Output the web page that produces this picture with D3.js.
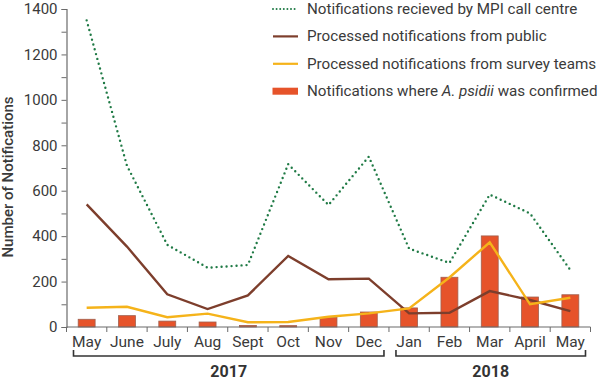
<!DOCTYPE html>
<html>
<head>
<meta charset="utf-8">
<script src="https://cdn.jsdelivr.net/npm/d3@7"></script>
<style>
  body { margin: 0; background: #fff; }
  svg { display: block; font-family: Roboto, "Noto Sans", sans-serif; }
</style>
</head>
<body>
<svg id="chart" width="600" height="380"></svg>
<script>
const months = ["May", "June", "July", "Aug", "Sept", "Oct", "Nov", "Dec", "Jan", "Feb", "Mar", "April", "May"];
const callCentre = [1350, 710, 362, 261, 273, 717, 537, 750, 345, 282, 583, 500, 251];
const fromPublic = [540, 354, 144, 79, 139, 313, 210, 213, 60, 63, 158, 119, 70];
const fromSurvey = [85, 89, 43, 59, 21, 22, 45, 60, 82, 218, 373, 100, 129];
const confirmed = [34, 50, 26, 22, 7, 6, 42, 66, 84, 219, 401, 132, 142];
const yTicks = [0, 200, 400, 600, 800, 1000, 1200, 1400];
const years = [{label: "2017", from: 0, to: 7}, {label: "2018", from: 8, to: 12}];
const legendItems = [
  {type: "dotted", text: ["Notifications recieved by MPI call centre"]},
  {type: "brown", text: ["Processed notifications from public"]},
  {type: "yellow", text: ["Processed notifications from survey teams"]},
  {type: "bar", text: ["Notifications where ", "A. psidii", " was confirmed"]}
];

const colors = {green: "#1f7a45", brown: "#7d3e2c", yellow: "#f5b31a", bar: "#e6532a", barStroke: "#a0604f", axis: "#6b6b6b", text: "#3a3a3a"};

const svg = d3.select("#chart");
const idx = d3.range(months.length);
const x = d3.scaleBand().domain(idx).range([66.5, 590.5]);
const y = d3.scaleLinear().domain([0, 1400]).range([327, 9]);
const cx = i => x(i) + x.bandwidth() / 2;

// bars
const bw = x.bandwidth() * 0.42;
svg.append("g").selectAll("rect").data(confirmed).join("rect")
  .attr("x", (d, i) => cx(i) - bw / 2)
  .attr("y", d => y(d))
  .attr("width", bw)
  .attr("height", d => y(0) - y(d))
  .attr("fill", colors.bar)
  .attr("stroke", colors.barStroke)
  .attr("stroke-width", 0.8);

const line = d3.line().x((d, i) => cx(i)).y(d => y(d));

svg.append("path").datum(callCentre).attr("d", line)
  .attr("fill", "none").attr("stroke", colors.green).attr("stroke-width", 2.4)
  .attr("stroke-dasharray", "0 5").attr("stroke-linecap", "round");
svg.append("path").datum(fromPublic).attr("d", line)
  .attr("fill", "none").attr("stroke", colors.brown).attr("stroke-width", 2.4);
svg.append("path").datum(fromSurvey).attr("d", line)
  .attr("fill", "none").attr("stroke", colors.yellow).attr("stroke-width", 2.4);

// y axis
const yAxis = d3.axisLeft(y).tickValues(d3.range(0, 1401, 100)).tickSize(5).tickPadding(4)
  .tickFormat(d => yTicks.includes(d) ? d : "");
const gy = svg.append("g").attr("transform", "translate(66.5,0)").call(yAxis);
gy.select(".domain").attr("stroke", colors.axis).attr("stroke-width", 1.2);
gy.selectAll(".tick line").attr("stroke", colors.axis);
gy.selectAll(".tick text").attr("fill", colors.text).style("font-size", "15px").style("font-family", "Roboto");

// x axis
const gx = svg.append("g").attr("transform", "translate(0,327)");
gx.append("line").attr("x1", 66.5).attr("x2", 590.5).attr("y1", 0).attr("y2", 0)
  .attr("stroke", colors.axis).attr("stroke-width", 1.2);
gx.selectAll(".tk").data(d3.range(months.length + 1)).join("line")
  .attr("x1", i => i < months.length ? x(i) : x(months.length - 1) + x.bandwidth())
  .attr("x2", i => i < months.length ? x(i) : x(months.length - 1) + x.bandwidth())
  .attr("y1", 0).attr("y2", 5).attr("stroke", colors.axis);
gx.selectAll(".lbl").data(months).join("text")
  .attr("x", (d, i) => cx(i)).attr("y", 20)
  .attr("text-anchor", "middle").attr("fill", colors.text)
  .style("font-size", "15.5px").text(d => d);

// year brackets
const yb = svg.append("g");
years.forEach(yr => {
  const x1 = x(yr.from) + 7, x2 = x(yr.to) + x.bandwidth() - 5;
  yb.append("path").attr("d", `M${x1},350V356H${x2}V350`)
    .attr("fill", "none").attr("stroke", "#333").attr("stroke-width", 1.6);
  yb.append("text").attr("x", (x1 + x2) / 2).attr("y", 377).attr("text-anchor", "middle")
    .attr("fill", "#333").style("font-size", "16px").style("font-weight", "bold").text(yr.label);
});

// y axis title
svg.append("text").attr("transform", "translate(13,177) rotate(-90)")
  .attr("text-anchor", "middle").attr("fill", colors.text)
  .style("font-size", "15px").style("font-weight", "500").text("Number of Notifications");

// legend
const lg = svg.append("g");
legendItems.forEach((it, i) => {
  const yy = 9 + i * 27.4;
  if (it.type === "dotted") {
    lg.append("line").attr("x1", 273).attr("x2", 298).attr("y1", yy).attr("y2", yy)
      .attr("stroke", colors.green).attr("stroke-width", 2).attr("stroke-dasharray", "0 3.6").attr("stroke-linecap", "round");
  } else if (it.type === "bar") {
    lg.append("rect").attr("x", 272.5).attr("y", yy - 3.5).attr("width", 25.5).attr("height", 7).attr("fill", colors.bar);
  } else {
    lg.append("line").attr("x1", 273).attr("x2", 298).attr("y1", yy).attr("y2", yy)
      .attr("stroke", it.type === "brown" ? colors.brown : colors.yellow).attr("stroke-width", 2.2);
  }
  const t = lg.append("text").attr("x", 307).attr("y", yy + 5).attr("fill", colors.text).style("font-size", "15.2px");
  it.text.forEach((s, j) => {
    t.append("tspan").style("font-style", j === 1 ? "italic" : "normal").text(s);
  });
});
</script>
</body>
</html>
